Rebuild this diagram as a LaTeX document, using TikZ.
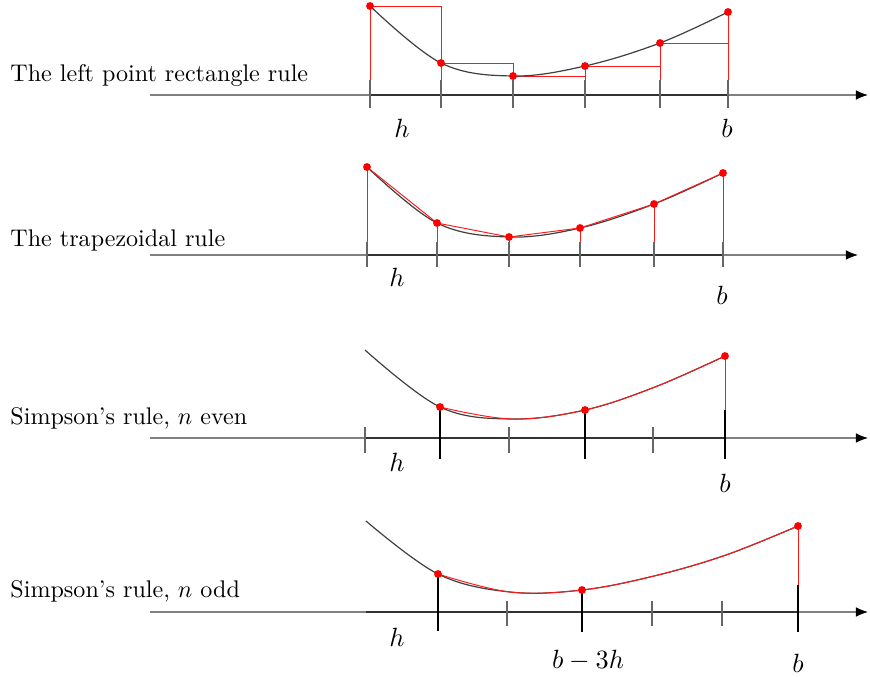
\documentclass[tikz,border=0pt]{standalone}
\usepackage{amsmath,amssymb}
\usetikzlibrary{arrows,arrows.meta,positioning,calc}

\begin{document}
\begin{tikzpicture}[x=0.0146cm, y=-0.0146cm, >=latex]
    \tikzset{
        rulelabel/.style={anchor=west, inner sep=0pt, font=\normalsize},
        axisline/.style={draw=black!50, -{Latex[black, length=5pt, width=4pt]}, line width=0.5pt},
        axisdark/.style={draw=black!80, line width=0.5pt},
        tick/.style={draw=black!60, line width=0.5pt},
        bigtick/.style={draw=black, line width=1.1pt},
        curve/.style={draw=black!75, line width=0.5pt},
        approx/.style={draw=red!90, line width=0.4pt},
        dot/.style={circle, fill=red, inner sep=0pt, minimum size=0.115cm},
        mlabel/.style={inner sep=0pt, font=\fontsize{11}{13}\selectfont}
    }
    \useasboundingbox (0,0) rectangle (870,677);

    % The left point rectangle rule
    \node[rulelabel] (lbl1) at (10,75) {The left point rectangle rule};
    \draw[axisline] (150,95) coordinate (a1) -- (868,95) coordinate (e1);
    \foreach \i/\x/\y in {0/370/6,1/441/63,2/513/76,3/585/66,4/660/43,5/728/12} {
        \coordinate (p\i) at (\x,\y);
        \coordinate (b\i) at (\x,80);
        \coordinate (d\i) at (\x,108);
    }
    \draw[axisdark] (p0 |- a1) -- (p5 |- a1);
    \foreach \i in {0,...,5} \draw[tick] (b\i) -- (d\i);
    \foreach \i [evaluate=\i as \j using int(\i+1)] in {0,...,4}
        \draw[approx] (b\i) -- (p\i) -- (p\i -| b\j) -- (b\j);
    \draw[approx] (p5) -- (b5);
    \draw[curve] plot[smooth, tension=0.6] coordinates {(p0) (p1) (p2) (p3) (p4) (p5)};
    \foreach \i in {0,...,5} \node[dot] (q\i) at (p\i) {};
    \node[mlabel] (h1) at (402,128) {$h$};
    \node[mlabel] (bb1) at (727,128) {$b$};

    % The trapezoidal rule
    \node[rulelabel] (lbl2) at (10,240) {The trapezoidal rule};
    \draw[axisline] (150,255) coordinate (a2) -- (858,255) coordinate (e2);
    \foreach \i/\x/\y in {0/367/167,1/437/223,2/509/237,3/580/228,4/654/204,5/723/173} {
        \coordinate (r\i) at (\x,\y);
        \coordinate (s\i) at (\x,242);
        \coordinate (u\i) at (\x,267);
    }
    \draw[axisdark] (r0 |- a2) -- (r5 |- a2);
    \foreach \i in {0,...,5} {
        \draw[tick] (s\i) -- (u\i);
        \draw[approx] (s\i) -- (r\i);
    }
    \draw[curve] plot[smooth, tension=0.6] coordinates {(r0) (r1) (r2) (r3) (r4) (r5)};
    \draw[approx] (r0) -- (r1) -- (r2) -- (r3) -- (r4) -- (r5);
    \foreach \i in {0,...,5} \node[dot] (v\i) at (r\i) {};
    \node[mlabel] (h2) at (397,277) {$h$};
    \node[mlabel] (bb2) at (722,295) {$b$};

    % Simpson's rule, n even
    \node[rulelabel] (lbl3) at (10,418) {Simpson's rule, $n$ even};
    \draw[axisline] (150,438) coordinate (a3) -- (868,438) coordinate (e3);
    \foreach \i/\x/\y in {0/365/350,1/440/407,2/512/419,3/585/410,4/655/387,5/725/356}
        \coordinate (m\i) at (\x,\y);
    \coordinate (mb) at (725,410);
    \draw[axisdark] (m0 |- a3) -- (m5 |- a3);
    \foreach \x in {365,509,653} \draw[tick] (\x,427) -- (\x,453);
    \draw[bigtick] (m1) -- ($(m1 |- a3)+(0,21)$);
    \draw[bigtick] (m3) -- ($(m3 |- a3)+(0,21)$);
    \draw[bigtick] (mb) -- ($(mb |- a3)+(0,21)$);
    \draw[approx] (m5) -- (mb);
    \draw[curve] plot[smooth, tension=0.6] coordinates {(m0) (m1) (m2) (m3) (m4) (m5)};
    \draw[approx] plot[smooth, tension=0.6] coordinates {(m1) (m2) (m3) (m4) (m5)};
    \foreach \i in {1,3,5} \node[dot] (w\i) at (m\i) {};
    \node[mlabel] (h3) at (397,462) {$h$};
    \node[mlabel] (bb3) at (725,483) {$b$};

    % Simpson's rule, n odd
    \node[rulelabel] (lbl4) at (10,591) {Simpson's rule, $n$ odd};
    \draw[axisline] (150,612) coordinate (a4) -- (868,612) coordinate (e4);
    \foreach \i/\x/\y in {0/366/521,1/438/574,2/510/592,3/582/590,4/654/576,5/726/555,6/798/526}
        \coordinate (k\i) at (\x,\y);
    \coordinate (kb) at (798,585);
    \draw[axisdark] (k0 |- a4) -- (k6 |- a4);
    \foreach \x in {507,652,722} \draw[tick] (\x,601) -- (\x,626);
    \draw[bigtick] (k1) -- ($(k1 |- a4)+(0,19)$);
    \draw[bigtick] (k3) -- ($(k3 |- a4)+(0,20)$);
    \draw[bigtick] (kb) -- ($(kb |- a4)+(0,20)$);
    \draw[approx] (k6) -- (kb);
    \draw[curve] plot[smooth, tension=0.6] coordinates {(k0) (k1) (k2) (k3) (k4) (k5) (k6)};
    \draw[approx] plot[smooth, tension=0.6] coordinates {(k1) (k2) (k3) (k4) (k5) (k6)};
    \foreach \i in {1,3,6} \node[dot] (z\i) at (k\i) {};
    \node[mlabel] (h4) at (397,637) {$h$};
    \node[mlabel] (bm4) at (588,660) {$b-3h$};
    \node[mlabel] (bb4) at (798,663) {$b$};
\end{tikzpicture}
\end{document}
